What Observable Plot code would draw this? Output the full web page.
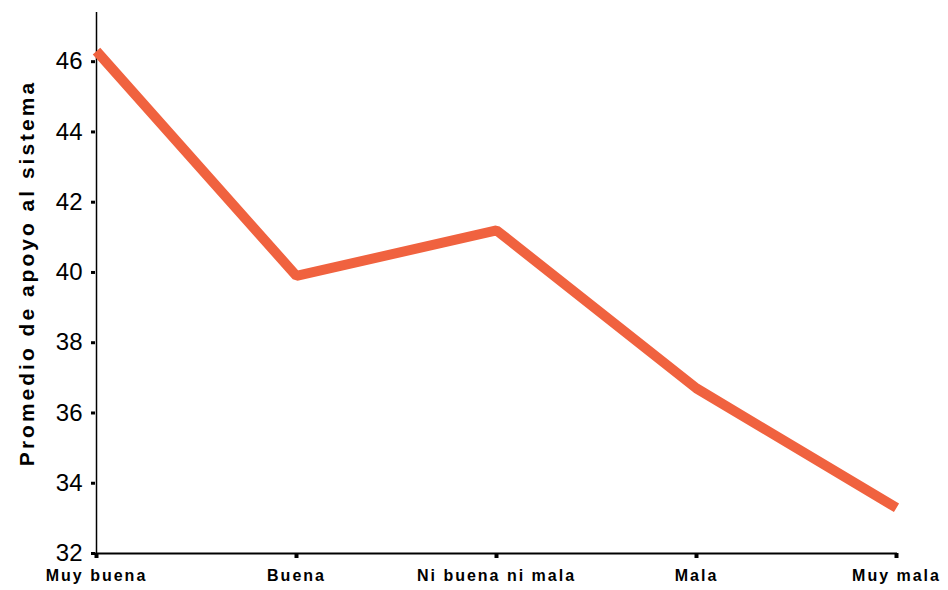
<!DOCTYPE html>
<html><head><meta charset="utf-8">
<script src="https://cdn.jsdelivr.net/npm/d3@7"></script>
<script src="https://cdn.jsdelivr.net/npm/@observablehq/plot@0.6"></script>
<style>
body{margin:0;background:#fff;}
#chart svg{display:block;}
g[aria-label="x-axis tick label"]{letter-spacing:2px;}
g[aria-label="text"]{letter-spacing:3px;}
</style></head><body><div id="chart"></div>
<script>
const categories = ["Muy buena", "Buena", "Ni buena ni mala", "Mala", "Muy mala"];
const values = [46.3, 39.9, 41.2, 36.7, 33.3];
const yTicks = [32, 34, 36, 38, 40, 42, 44, 46];
const yLabel = "Promedio de apoyo al sistema";
const data = categories.map((c, i) => ({cat: c, v: values[i]}));
const chart = Plot.plot({
  width: 948, height: 590,
  marginLeft: 95, marginRight: 51, marginTop: 12, marginBottom: 37,
  style: {fontFamily: "'Liberation Sans', Arial, sans-serif", background: "#fff", color: "#000"},
  x: {type: "point", domain: categories, padding: 0},
  y: {domain: [32, 47.4]},
  marks: [
    Plot.axisY({ticks: yTicks, tickSize: 4, tickPadding: 9, fontSize: 24, strokeWidth: 3, label: null}),
    Plot.axisX({tickSize: 5, tickPadding: 11, fontSize: 16, fontWeight: "bold", strokeWidth: 4, label: null}),
    Plot.ruleX([categories[0]], {stroke: "#000", strokeWidth: 1.5}),
    Plot.ruleY([32], {stroke: "#000", strokeWidth: 2}),
    Plot.line(data, {x: "cat", y: "v", stroke: "#f0623f", strokeWidth: 10, strokeLinejoin: "miter", strokeLinecap: "butt"}),
    Plot.text([yLabel], {frameAnchor: "left", textAnchor: "middle", rotate: -90, dx: -68, dy: -10, fontSize: 21, fontWeight: "bold"})
  ]
});
document.getElementById("chart").append(chart);
</script></body></html>
